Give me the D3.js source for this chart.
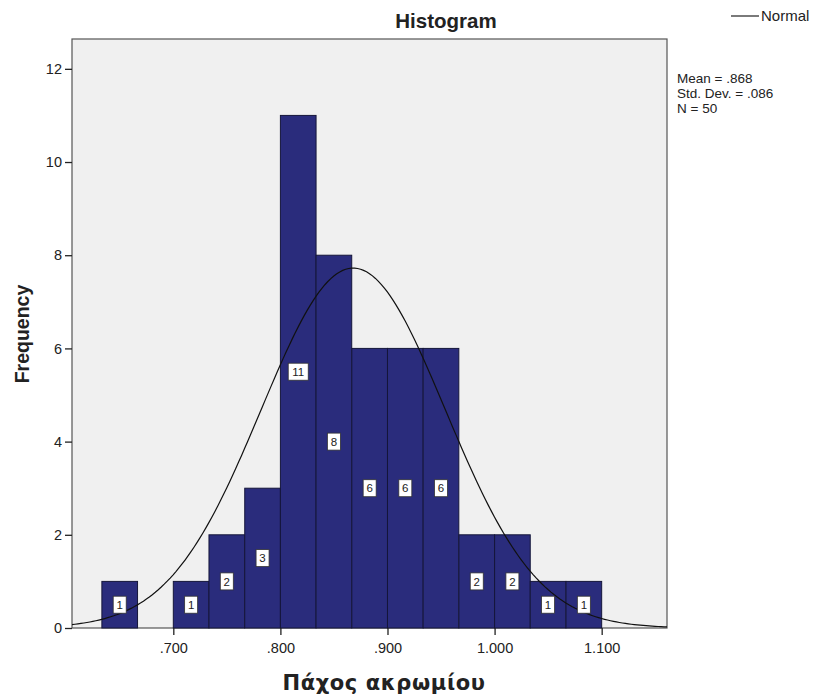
<!DOCTYPE html>
<meta charset="utf-8">
<style>
body { margin: 0; background: #fff; }
text { font-family: Arial, "Liberation Sans", sans-serif; fill: #222; }
.stat { font-size: 13.5px; }
</style>
<svg width="813" height="698"></svg>
<script src="https://cdnjs.cloudflare.com/ajax/libs/d3/7.8.5/d3.min.js"></script>
<script>

// bin edges (lower bound of each bin) and counts
var binStart = [0.6333, 0.6667, 0.7000, 0.7333, 0.7667, 0.8000, 0.8333, 0.8667, 0.9000, 0.9333, 0.9667, 1.0000, 1.0333, 1.0667];
var counts   = [1, 0, 1, 2, 3, 11, 8, 6, 6, 6, 2, 2, 1, 1];
var binWidth = 0.0333;
var xTicks = [0.7, 0.8, 0.9, 1.0, 1.1];
var yTicks = [0, 2, 4, 6, 8, 10, 12];
var mean = 0.868, sd = 0.086, n = 50;
var statLines = ["Mean = .868", "Std. Dev. = .086", "N = 50"];

var svg = d3.select("svg");
var plot = {left: 72, right: 667, top: 39, bottom: 628};

var x = d3.scaleLinear().domain([0.6054, 1.161]).range([plot.left, plot.right]);
var y = d3.scaleLinear().domain([0, 12.64]).range([plot.bottom, plot.top]);

svg.append("rect")
    .attr("x", plot.left).attr("y", plot.top)
    .attr("width", plot.right - plot.left).attr("height", plot.bottom - plot.top)
    .attr("fill", "#f0f0f0").attr("stroke", "#555").attr("stroke-width", 1.2);

var bins = binStart.map(function(b, i) { return {x0: b, x1: b + binWidth, n: counts[i]}; })
    .filter(function(d) { return d.n > 0; });

svg.append("g").selectAll("rect")
    .data(bins)
  .enter().append("rect")
    .attr("x", function(d) { return x(d.x0); })
    .attr("y", function(d) { return y(d.n); })
    .attr("width", function(d) { return x(d.x1) - x(d.x0); })
    .attr("height", function(d) { return y(0) - y(d.n); })
    .attr("fill", "#2a2c7c")
    .attr("stroke", "#15163a")
    .attr("stroke-width", 1);

// normal curve scaled to counts
var scale = n * binWidth;
var pts = d3.range(0, 201).map(function(i) {
  var v = x.domain()[0] + (x.domain()[1] - x.domain()[0]) * i / 200;
  var z = (v - mean) / sd;
  return [v, scale * Math.exp(-0.5 * z * z) / (sd * Math.sqrt(2 * Math.PI))];
});
svg.append("path")
    .datum(pts)
    .attr("fill", "none")
    .attr("stroke", "#111")
    .attr("stroke-width", 1.2)
    .attr("d", d3.line().x(function(d) { return x(d[0]); }).y(function(d) { return y(d[1]); }));

// count labels
var lab = svg.append("g").selectAll("g")
    .data(bins)
  .enter().append("g")
    .attr("transform", function(d) { return "translate(" + x((d.x0 + d.x1) / 2) + "," + y(d.n / 2) + ")"; });
lab.append("rect")
    .attr("x", function(d) { return d.n > 9 ? -10 : -6.5; })
    .attr("y", -8.5)
    .attr("width", function(d) { return d.n > 9 ? 20 : 13; })
    .attr("height", 17)
    .attr("fill", "#fff").attr("stroke", "#333").attr("stroke-width", 0.8);
lab.append("text")
    .attr("text-anchor", "middle").attr("dy", "0.36em")
    .style("font-size", "11.5px")
    .text(function(d) { return d.n; });

// axes
var yAxis = svg.append("g")
    .attr("transform", "translate(" + plot.left + ",0)")
    .call(d3.axisLeft(y).tickValues(yTicks).tickSize(7).tickPadding(3).tickFormat(d3.format("d")));
yAxis.select(".domain").remove();
yAxis.selectAll("line").attr("stroke", "#222").attr("stroke-width", 1.3);
yAxis.selectAll("text").style("font-size", "14.5px").attr("fill", "#333");

var xAxis = svg.append("g")
    .attr("transform", "translate(0," + plot.bottom + ")")
    .call(d3.axisBottom(x).tickValues(xTicks).tickSize(7).tickPadding(8)
      .tickFormat(function(d) { return d3.format(".3f")(d).replace(/^0/, ""); }));
xAxis.select(".domain").remove();
xAxis.selectAll("line").attr("stroke", "#222").attr("stroke-width", 1.3);
xAxis.selectAll("text").style("font-size", "14.5px").attr("fill", "#333");

// titles
svg.append("text").attr("x", 446).attr("y", 28).attr("text-anchor", "middle")
    .style("font-size", "20.5px").style("font-weight", "bold").text("Histogram");
svg.append("text").attr("x", 384).attr("y", 690).attr("text-anchor", "middle")
    .style("font-family", "'DejaVu Sans', Verdana, sans-serif")
    .style("font-size", "21px").style("font-weight", "bold").style("letter-spacing", "0.6px")
    .text("Πάχος ακρωμίου");
svg.append("text").attr("transform", "translate(29,334) rotate(-90)").attr("text-anchor", "middle")
    .style("font-size", "19.5px").style("font-weight", "bold").text("Frequency");

// legend + stats
svg.append("line").attr("x1", 731).attr("x2", 759).attr("y1", 16).attr("y2", 16)
    .attr("stroke", "#222").attr("stroke-width", 1.2);
svg.append("text").attr("x", 761).attr("y", 21).style("font-size", "15px").text("Normal");
statLines.forEach(function(s, i) {
  svg.append("text").attr("class", "stat").attr("x", 677).attr("y", 83 + i * 15).text(s);
});

</script>
